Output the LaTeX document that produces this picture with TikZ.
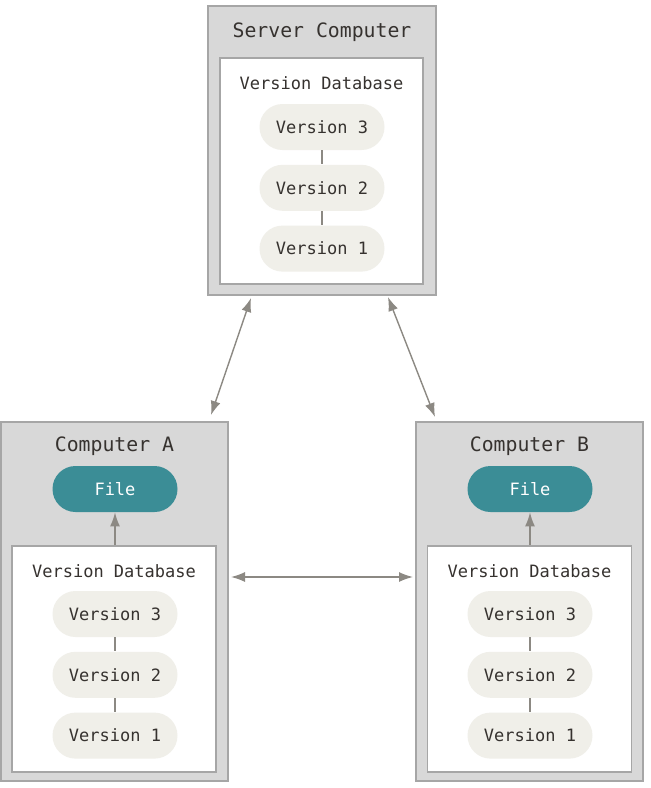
\documentclass[tikz,border=0pt]{standalone}
\usepackage{fontspec}
\setmonofont{DejaVu Sans Mono}
\usetikzlibrary{arrows.meta, positioning, calc}
\definecolor{boxgray}{HTML}{D8D8D8}
\definecolor{boxline}{HTML}{A6A6A6}
\definecolor{pillfill}{HTML}{F0EFE9}
\definecolor{fileteal}{HTML}{3B8D96}
\definecolor{inkdark}{HTML}{36322F}
\definecolor{linkgray}{HTML}{8C8983}
\tikzset{
    machine/.style={
        rectangle, draw=boxline, fill=boxgray, line width=1pt,
        minimum width=113.5pt, minimum height=179.5pt, inner sep=0pt
    },
    database/.style={
        rectangle, draw=boxline, fill=white, line width=0.8pt,
        minimum width=102pt, minimum height=113pt, inner sep=0pt
    },
    title/.style={font=\ttfamily\fontsize{9.9}{12}\selectfont, text=inkdark},
    dblabel/.style={font=\ttfamily\fontsize{8.5}{10}\selectfont, text=inkdark},
    version/.style={
        rectangle, rounded corners=11.5pt, fill=pillfill,
        minimum width=62.5pt, minimum height=23pt, inner sep=0pt,
        font=\ttfamily\fontsize{8.5}{10}\selectfont, text=inkdark
    },
    workfile/.style={version, fill=fileteal, text=white},
    link/.style={draw=linkgray, line width=0.6pt},
    arrow/.style={-{Latex[length=7pt,width=5pt]}, draw=linkgray, fill=linkgray, line width=0.7pt},
    biarrow/.style={{Latex[length=7pt,width=5pt]}-{Latex[length=7pt,width=5pt]}, draw=linkgray, fill=linkgray, line width=0.7pt}
}

\begin{document}
\begin{tikzpicture}[x=0.5pt, y=-0.5pt, node distance=7pt]
    \useasboundingbox (0,0) rectangle (650,788);

    % server
    \node[machine, minimum width=114pt, minimum height=144.5pt] (srv) at (322,150.5) {};
    \node[database, minimum width=101.5pt] (srvdb) at (321.5,171) {};
    \node[title] (srvtitle) at (322,32) {Server Computer};
    \node[dblabel] (srvdblabel) at (321.5,83) {Version Database};
    \node[version] (srv3) at (322,127) {Version 3};
    \node[version, below=of srv3] (srv2) {Version 2};
    \node[version, below=of srv2] (srv1) {Version 1};
    \draw[link] (srv3) -- (srv2);
    \draw[link] (srv2) -- (srv1);

    % computer A
    \node[machine] (compA) at (114.5,601.5) {};
    \node[database] (dbA) at (114,659) {};
    \node[title] (titleA) at (114.5,446) {Computer A};
    \node[workfile] (fileA) at (115,489) {File};
    \node[dblabel] (dblabelA) at (114,571) {Version Database};
    \node[version] (verA3) at (115,614) {Version 3};
    \node[version, below=of verA3] (verA2) {Version 2};
    \node[version, below=of verA2] (verA1) {Version 1};
    \draw[link] (verA3) -- (verA2);
    \draw[link] (verA2) -- (verA1);
    \draw[arrow] (dbA.north -| fileA) -- (fileA.south);

    % computer B
    \node[machine] (compB) at (529.5,601.5) {};
    \node[database] (dbB) at (529.5,659) {};
    \node[title] (titleB) at (529.5,446) {Computer B};
    \node[workfile] (fileB) at (530,489) {File};
    \node[dblabel] (dblabelB) at (529.5,571) {Version Database};
    \node[version] (verB3) at (530,614) {Version 3};
    \node[version, below=of verB3] (verB2) {Version 2};
    \node[version, below=of verB2] (verB1) {Version 1};
    \draw[link] (verB3) -- (verB2);
    \draw[link] (verB2) -- (verB1);
    \draw[arrow] (dbB.north -| fileB) -- (fileB.south);

    % sync arrows
    \draw[biarrow] ([xshift=22pt, yshift=-1pt]srv.south west) -- ([xshift=-9pt, yshift=3pt]compA.north east);
    \draw[biarrow] ([xshift=-24.5pt, yshift=-0.5pt]srv.south east) -- ([xshift=10pt, yshift=2pt]compB.north west);
    \draw[biarrow] ([xshift=1pt, yshift=12.25pt]compA.east) -- ([xshift=-1pt, yshift=12.25pt]compB.west);
\end{tikzpicture}
\end{document}
